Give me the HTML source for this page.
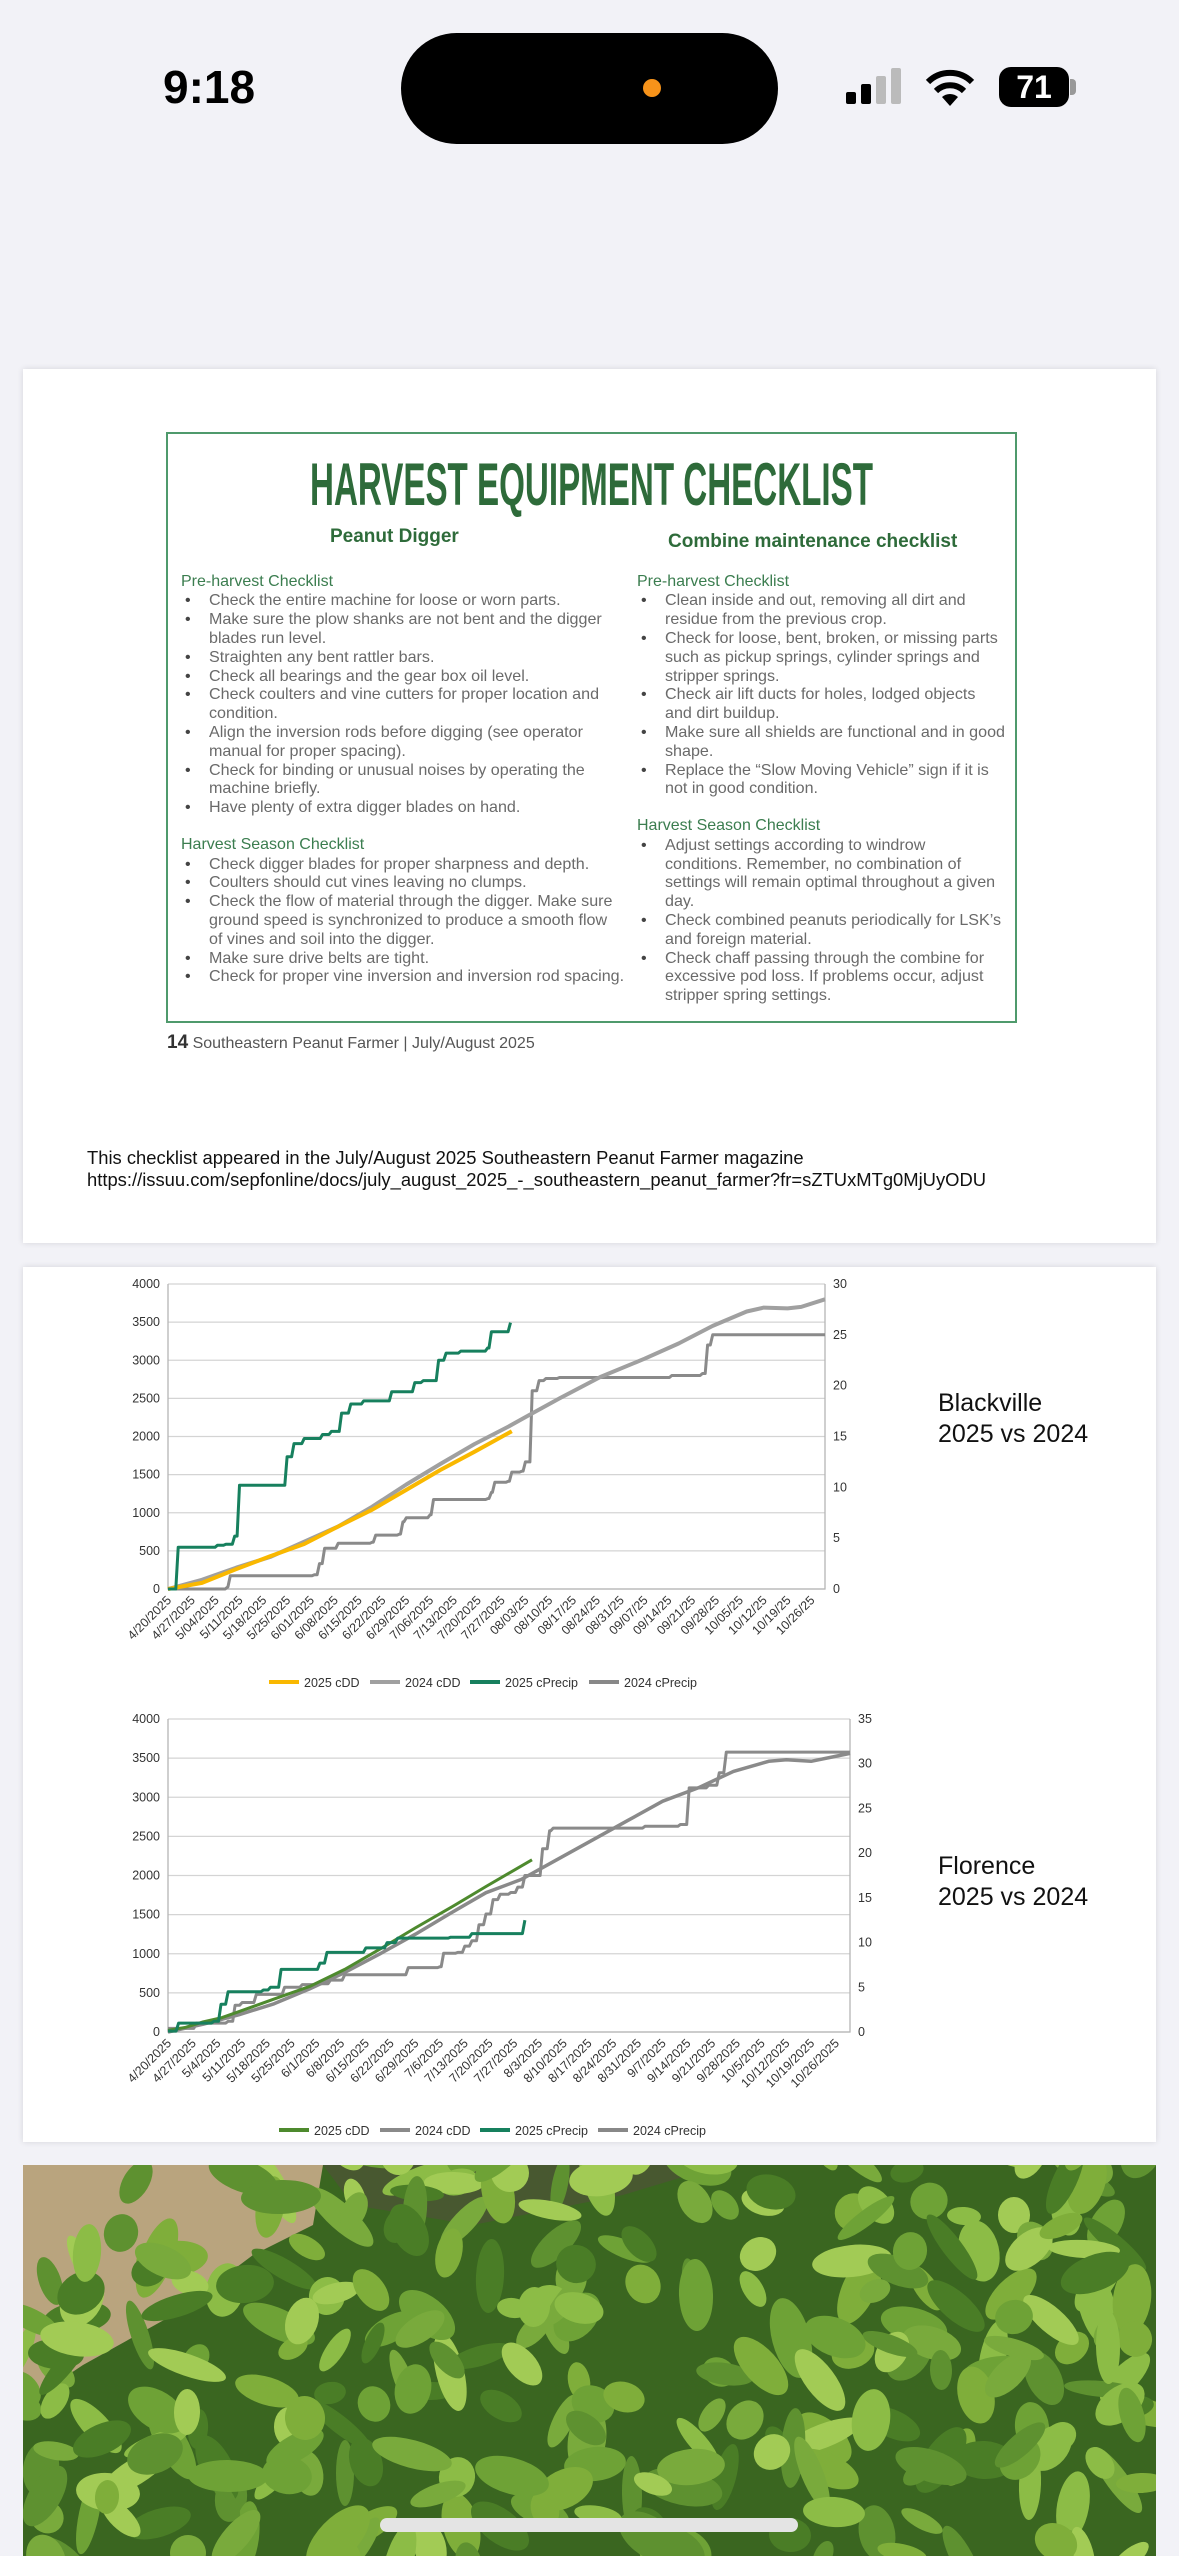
<!DOCTYPE html>
<html><head><meta charset="utf-8"><style>
*{margin:0;padding:0;box-sizing:border-box}
body{width:1179px;height:2556px;background:#f2f2f7;position:relative;overflow:hidden;font-family:"Liberation Sans",sans-serif}
.card{position:absolute;left:23px;width:1133px;background:#fff;box-shadow:0 0 6px rgba(0,0,0,.12)}
.ab{position:absolute;white-space:nowrap}
.col{position:absolute;font-size:16.1px;line-height:18.8px;color:#6a6a6a;white-space:nowrap}
.col .h{color:#3b7d4f;font-size:16px}
.col .li{padding-left:28px;position:relative}
.col .li:before{content:"•";position:absolute;left:4px;color:#444}
.photo{position:absolute;left:23px;top:2165px;width:1133px;height:391px;overflow:hidden;background:#3f6e24}
</style></head><body>
<div class="ab" style="left:163px;top:60px;font-size:46px;font-weight:bold;color:#000">9:18</div>
<div class="ab" style="left:401px;top:33px;width:377px;height:111px;background:#000;border-radius:56px"></div>
<div class="ab" style="left:643px;top:79px;width:18px;height:18px;background:#f7931a;border-radius:50%"></div>
<div class="ab" style="left:846px;top:92px;width:10px;height:12px;background:#000;border-radius:2px"></div>
<div class="ab" style="left:861px;top:84px;width:10px;height:20px;background:#000;border-radius:2px"></div>
<div class="ab" style="left:876px;top:76px;width:10px;height:28px;background:#bbb;border-radius:2px"></div>
<div class="ab" style="left:891px;top:68px;width:10px;height:36px;background:#bbb;border-radius:2px"></div>
<svg class="ab" style="left:922px;top:66px" width="56" height="42" viewBox="0 0 56 42"><path d="M28 40 L20 31 A12 12 0 0 1 36 31 Z" fill="#000"/><path d="M14 25 A20 20 0 0 1 42 25" stroke="#000" stroke-width="6" fill="none"/><path d="M6 16 A31 31 0 0 1 50 16" stroke="#000" stroke-width="6" fill="none"/></svg>
<div class="ab" style="left:999px;top:67px;width:70px;height:40px;background:#000;border-radius:12px;color:#fff;font-weight:bold;font-size:32px;text-align:center;line-height:40px">71</div>
<div class="ab" style="left:1070px;top:79px;width:6px;height:16px;background:#999;border-radius:0 4px 4px 0"></div>

<div class="card" style="top:369px;height:874px"></div>
<div class="ab" style="left:166px;top:432px;width:851px;height:591px;border:2px solid #4f9a6c"></div>
<svg class="ab" style="left:0;top:0" width="1179" height="560"><text x="310" y="505" textLength="563" lengthAdjust="spacingAndGlyphs" font-family="Liberation Sans" font-weight="bold" font-size="60" fill="#2e6b3a">HARVEST EQUIPMENT CHECKLIST</text></svg>
<div class="ab" style="left:330px;top:526px;font-size:19px;font-weight:bold;color:#2e6b3a">Peanut Digger</div>
<div class="ab" style="left:668px;top:531px;font-size:19px;font-weight:bold;color:#2e6b3a">Combine maintenance checklist</div>
<div class="col" style="left:181px;top:572.6px">
<div class="h">Pre-harvest Checklist</div>
<div class="li">Check the entire machine for loose or worn parts.</div>
<div class="li">Make sure the plow shanks are not bent and the digger<br>blades run level.</div>
<div class="li">Straighten any bent rattler bars.</div>
<div class="li">Check all bearings and the gear box oil level.</div>
<div class="li">Check coulters and vine cutters for proper location and<br>condition.</div>
<div class="li">Align the inversion rods before digging (see operator<br>manual for proper spacing).</div>
<div class="li">Check for binding or unusual noises by operating the<br>machine briefly.</div>
<div class="li">Have plenty of extra digger blades on hand.</div>
<div>&nbsp;</div>
<div class="h">Harvest Season Checklist</div>
<div class="li">Check digger blades for proper sharpness and depth.</div>
<div class="li">Coulters should cut vines leaving no clumps.</div>
<div class="li">Check the flow of material through the digger. Make sure<br>ground speed is synchronized to produce a smooth flow<br>of vines and soil into the digger.</div>
<div class="li">Make sure drive belts are tight.</div>
<div class="li">Check for proper vine inversion and inversion rod spacing.</div>
</div>
<div class="col" style="left:637px;top:572.6px">
<div class="h">Pre-harvest Checklist</div>
<div class="li">Clean inside and out, removing all dirt and<br>residue from the previous crop.</div>
<div class="li">Check for loose, bent, broken, or missing parts<br>such as pickup springs, cylinder springs and<br>stripper springs.</div>
<div class="li">Check air lift ducts for holes, lodged objects<br>and dirt buildup.</div>
<div class="li">Make sure all shields are functional and in good<br>shape.</div>
<div class="li">Replace the “Slow Moving Vehicle” sign if it is<br>not in good condition.</div>
<div>&nbsp;</div>
<div class="h">Harvest Season Checklist</div>
<div class="li">Adjust settings according to windrow<br>conditions. Remember, no combination of<br>settings will remain optimal throughout a given<br>day.</div>
<div class="li">Check combined peanuts periodically for LSK’s<br>and foreign material.</div>
<div class="li">Check chaff passing through the combine for<br>excessive pod loss. If problems occur, adjust<br>stripper spring settings.</div>
</div>
<div class="ab" style="left:167px;top:1032px;font-size:16px;color:#555"><b style="font-size:19px;color:#333">14</b> Southeastern Peanut Farmer | July/August 2025</div>
<div class="ab" style="left:87px;top:1147px;font-size:18.4px;line-height:22px;color:#111">This checklist appeared in the July/August 2025 Southeastern Peanut Farmer magazine<br>https://issuu.com/sepfonline/docs/july_august_2025_-_southeastern_peanut_farmer?fr=sZTUxMTg0MjUyODU</div>

<div class="card" style="top:1267px;height:875px"></div>
<div class="ab" style="left:938px;top:1388px;font-size:25px;line-height:31px;color:#111">Blackville<br>2025 vs 2024</div>
<div class="ab" style="left:938px;top:1851px;font-size:25px;line-height:31px;color:#111">Florence<br>2025 vs 2024</div>
<svg id="ch" class="ab" style="left:0;top:0" width="1179" height="2556" font-family="Liberation Sans"></svg>

<div class="photo"><svg id="ph" width="1133" height="391"></svg></div>
<div class="ab" style="left:380px;top:2518px;width:418px;height:14px;border-radius:7px;background:#e4e4e4"></div>

<script>
var S=document.getElementById('ch'),out='';
function chart(c){
 var L=c.l,R=c.r,T=c.t,B=c.b,W=R-L,H=B-T;
 function X(d){return L+d*W/193}
 for(var v=0;v<=4000;v+=500){var y=B-v/4000*H;
  out+='<line x1="'+L+'" x2="'+R+'" y1="'+y+'" y2="'+y+'" stroke="#d4d4d4" stroke-width="1.3"/>';
  out+='<text x="'+(L-8)+'" y="'+(y+4)+'" font-size="12.5" text-anchor="end" fill="#333">'+v+'</text>';}
 for(var v=0;v<=c.rmax;v+=5){var y=B-v/c.rmax*H;
  out+='<text x="'+(R+8)+'" y="'+(y+4)+'" font-size="12.5" fill="#333">'+v+'</text>';}
 out+='<path d="M'+L+' '+T+'V'+B+'H'+R+'V'+T+'" stroke="#b5b5b5" stroke-width="1.3" fill="none"/>';
 for(var i=0;i<c.labels.length;i++){var x=X(i*7)+4;
  out+='<text transform="translate('+x+','+(B+12)+') rotate(-45)" font-size="12.5" text-anchor="end" fill="#333">'+c.labels[i]+'</text>';}
 c.series.forEach(function(s){var p='';
  s.pts.forEach(function(q){var y=s.right?B-q[1]/c.rmax*H:B-q[1]/4000*H;
   p+=' '+X(q[0]).toFixed(1)+','+y.toFixed(1);});
  out+='<polyline points="'+p+'" fill="none" stroke="'+s.col+'" stroke-width="'+(s.w||3)+'" stroke-linejoin="round"/>';});
 c.legend.forEach(function(g){out+='<line x1="'+g[0]+'" x2="'+(g[0]+30)+'" y1="'+c.ly+'" y2="'+c.ly+'" stroke="'+g[2]+'" stroke-width="4"/><text x="'+(g[0]+35)+'" y="'+(c.ly+5)+'" font-size="12.5" fill="#333">'+g[1]+'</text>';});
}
function steps(a){var r=[];for(var i=0;i<a.length;i++){if(i>0)r.push([a[i][0]-0.7,a[i-1][1]]);r.push(a[i]);}return r}
var lab1=["4/20/2025","4/27/2025","5/04/2025","5/11/2025","5/18/2025","5/25/2025","6/01/2025","6/08/2025","6/15/2025","6/22/2025","6/29/2025","7/06/2025","7/13/2025","7/20/2025","7/27/2025","08/03/25","08/10/25","08/17/25","08/24/25","08/31/25","09/07/25","09/14/25","09/21/25","09/28/25","10/05/25","10/12/25","10/19/25","10/26/25"];
var lab2=["4/20/2025","4/27/2025","5/4/2025","5/11/2025","5/18/2025","5/25/2025","6/1/2025","6/8/2025","6/15/2025","6/22/2025","6/29/2025","7/6/2025","7/13/2025","7/20/2025","7/27/2025","8/3/2025","8/10/2025","8/17/2025","8/24/2025","8/31/2025","9/7/2025","9/14/2025","9/21/2025","9/28/2025","10/5/2025","10/12/2025","10/19/2025","10/26/2025"];
chart({l:168,r:825,t:1284,b:1589,rmax:30,labels:lab1,ly:1682,
 legend:[[269,"2025 cDD","#f9b800"],[370,"2024 cDD","#a0a0a0"],[470,"2025 cPrecip","#17805e"],[589,"2024 cPrecip","#888"]],
 series:[
 {col:"#8a8a8a",right:1,w:3,pts:steps([[0,0],[17.5,0.2],[18.3,1.3],[43,1.4],[44.5,2.5],[46,4],[50,4.5],[60,4.6],[61,5.3],[68,5.4],[69,6.6],[70,7],[77,7.3],[78,8.8],[94,8.9],[95,9.5],[96,10.5],[100,10.6],[101,11.5],[104,11.6],[105,12.5],[107,19.5],[109,20.5],[111,20.7],[115,20.8],[140,20.8],[148,21],[157,21.2],[158.5,24],[160,25],[193,25]])},
 {col:"#a0a0a0",w:4,pts:[[0,0],[10,120],[20,280],[30,420],[40,620],[50,820],[60,1080],[70,1370],[80,1640],[90,1900],[100,2130],[106,2280],[115,2500],[127,2780],[140,3020],[150,3220],[160,3450],[170,3640],[175,3690],[182,3680],[186,3700],[193,3800]]},
 {col:"#f9b800",w:4,pts:[[0,0],[10,80],[20,260],[30,430],[40,590],[50,820],[60,1040],[70,1300],[80,1560],[90,1800],[101,2070]]},
 {col:"#17805e",right:1,w:3,pts:steps([[0,0],[3,4.1],[14.5,4.3],[17,4.4],[19.6,5.2],[21,10.2],[34,10.2],[35,13],[37,14.3],[40,14.8],[45.4,15.2],[48,15.5],[51,17.3],[53.7,18.2],[57.5,18.5],[65.7,19.4],[72.5,20.3],[75,20.5],[79.5,22.5],[81.7,23.2],[86,23.4],[93.9,23.7],[95,25.3],[99.5,25.3],[100.6,26.2]])}
 ]});
chart({l:168,r:850,t:1719,b:2032,rmax:35,labels:lab2,ly:2130,
 legend:[[279,"2025 cDD","#4e8a2e"],[380,"2024 cDD","#8a8a8a"],[480,"2025 cPrecip","#17805e"],[598,"2024 cPrecip","#888"]],
 series:[
 {col:"#8a8a8a",right:1,w:3,pts:steps([[0,0.4],[8,1],[17,1.2],[19,3],[21,3.3],[25,4.2],[33,5],[38,5.3],[42,5.4],[46,5.8],[50,6.4],[65,6.4],[68,7.2],[77,7.3],[78,8.8],[82,8.9],[84,9.6],[86,10.2],[88,12],[90,13.2],[92,14.8],[94,15.4],[97,15.6],[99,16.2],[101,17.5],[106,20.5],[108,22.5],[109,22.8],[125,22.8],[135,23],[145,23.2],[147.5,27.3],[153,27.6],[156,29],[158,31.3],[193,31.3]])},
 {col:"#8a8a8a",w:3.5,pts:[[0,0],[10,100],[20,220],[30,360],[40,550],[50,760],[60,1000],[70,1250],[80,1520],[90,1780],[100,1950],[110,2200],[120,2450],[130,2700],[140,2950],[150,3120],[160,3330],[170,3460],[175,3480],[182,3460],[193,3560]]},
 {col:"#4e8a2e",w:3,pts:[[0,20],[5,60],[10,130],[15,180],[20,260],[30,420],[40,580],[50,800],[60,1060],[70,1330],[80,1590],[90,1860],[103,2200]]},
 {col:"#17805e",right:1,w:3,pts:steps([[0,0.1],[3,1],[13,1.2],[15,3.1],[17,4.5],[27,4.7],[29,5],[32,7],[40,7],[43,7.7],[45,8.9],[53,8.9],[56,9.4],[61,9.4],[62,10],[65,10.5],[80,10.6],[85,10.6],[86,11],[99,11],[101,12.5]])}
 ]});
S.innerHTML=out;
var ph='',seed=7;function rnd(){seed=(seed*9301+49297)%233280;return seed/233280}
ph+='<rect width="1133" height="391" fill="#3a6620"/>';
ph+='<path d="M0 0H300L290 60L230 90L150 150L60 200L0 240Z" fill="#b9a47e"/><path d="M300 0H700L600 30L450 60L330 40Z" fill="#4e5238" opacity=".7"/>';
var cols=["#7fae3a","#8cbc46","#5e9130","#a2cb55","#4a7d26","#6ea236","#79aa3c"];
for(var i=0;i<300;i++){var x=rnd()*1133,y=rnd()*420-20,rx=16+rnd()*26,ry=8+rnd()*12,a=rnd()*180;
 if(y<80&&x<250&&rnd()<.8)continue;
 ph+='<ellipse cx="'+x.toFixed(0)+'" cy="'+y.toFixed(0)+'" rx="'+rx.toFixed(0)+'" ry="'+ry.toFixed(0)+'" fill="'+cols[i%7]+'" transform="rotate('+a.toFixed(0)+' '+x.toFixed(0)+' '+y.toFixed(0)+')"/>';}
document.getElementById('ph').innerHTML=ph;
</script>
</body></html>
